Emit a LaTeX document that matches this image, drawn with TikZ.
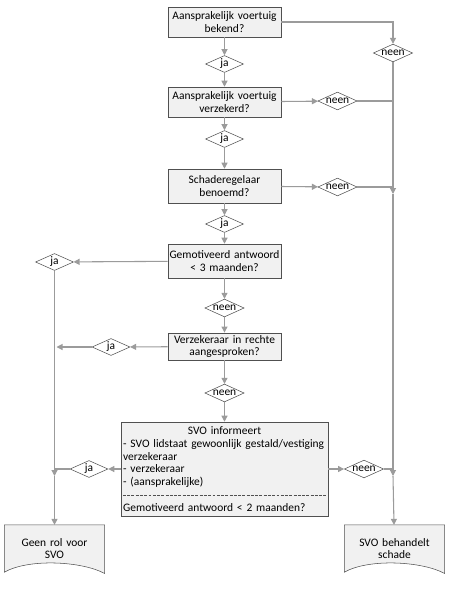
\documentclass[tikz,border=0pt]{standalone}
\usepackage{fontspec}
\setmainfont{Carlito}
\usetikzlibrary{shapes.geometric,arrows.meta,positioning,calc}
\definecolor{boxfill}{HTML}{F1F1F1}
\definecolor{boxline}{HTML}{505050}
\definecolor{linegray}{HTML}{9B9B9B}

\begin{document}
\begin{tikzpicture}[
    x=0.75pt, y=-0.75pt,
    font=\fontsize{8.6}{9.6}\selectfont,
    vraag/.style={
        rectangle,
        draw=boxline,
        fill=boxfill,
        align=center,
        text width=84pt,
        minimum width=85pt,
        minimum height=22.5pt,
        inner sep=0.5pt
    },
    keuze/.style={
        diamond,
        draw=boxline,
        fill=white,
        aspect=2.2,
        inner sep=0.4pt,
        minimum width=28.5pt,
        minimum height=12.75pt
    },
    doc/.style={
        rectangle,
        align=center,
        text width=68pt,
        minimum width=71pt,
        minimum height=35pt
    },
    line/.style={
        draw=linegray,
        thick,
        -{Triangle[length=4.5pt,width=4.5pt]}
    },
    plain/.style={
        draw=linegray,
        thick
    }
]
\useasboundingbox (0,0) rectangle (454,600);

% Vragen in de middenkolom
\node [vraag] (bekend) at (224.5,22) {Aansprakelijk voertuig\\bekend?};
\node [keuze] (ja1) at (224.5,64) {ja};
\node [vraag] (verzekerd) at (224.5,102) {Aansprakelijk voertuig\\verzekerd?};
\node [keuze] (ja2) at (224.5,139) {ja};
\node [vraag, minimum height=25.5pt] (regelaar) at (224.5,186) {Schaderegelaar\\benoemd?};
\node [keuze] (ja3) at (224.5,224) {ja};
\node [vraag, minimum height=25.5pt] (antwoord) at (224.5,261) {Gemotiveerd antwoord\\< 3 maanden?};
\node [keuze] (neen4) at (224.5,308) {neen};
\node [vraag, minimum height=20.5pt] (rechte) at (224.5,346.5) {Verzekeraar in rechte\\aangesproken?};
\node [keuze] (neen5) at (224.5,393) {neen};

\node [vraag, align=left, inner xsep=1.5pt, text width=152pt, minimum width=155pt, minimum height=70.5pt] (svo) at (224.5,469) {
    \makebox[\linewidth]{SVO informeert}\\
    - SVO lidstaat gewoonlijk gestald/vestiging\\
    verzekeraar\\
    - verzekeraar\\
    - (aansprakelijke)\\[9.6pt]
    Gemotiveerd antwoord < 2 maanden?
};
\draw [boxline, dash pattern=on 2.2pt off 1pt] ($(svo.south west)+(2,-21)$) -- ($(svo.south east)+(-2,-21)$);

% Keuzes rechts en links
\node [keuze] (nee1) at (393,53) {neen};
\node [keuze] (nee2) at (337.5,101) {neen};
\node [keuze] (nee3) at (337.5,187) {neen};
\node [keuze] (nee6) at (364,469) {neen};
\node [keuze] (jaa4) at (54.5,262) {ja};
\node [keuze] (jaa5) at (111,347) {ja};
\node [keuze] (jaa6) at (89,469) {ja};

% Eindpunten
\node [doc] (geen) at (54.5,548.5) {Geen rol voor\\SVO};
\node [doc] (behandelt) at (394.5,548.5) {SVO behandelt\\schade};
\foreach \d in {geen,behandelt}
    \draw [boxline, fill=boxfill] (\d.south west) -- (\d.north west) -- (\d.north east) -- ([yshift=-1pt]\d.south east)
        .. controls +(-22,-12) and +(25,-14) .. (\d.south west) -- cycle;
\node [doc] at (geen) {Geen rol voor\\SVO};
\node [doc] at (behandelt) {SVO behandelt\\schade};

\coordinate (r3) at (393,194);
\coordinate (r6) at (393,476);
\coordinate (l6) at (54.5,476);

% Middenkolom
\path [line] (bekend) -- (ja1);
\path [line] (ja1) -- (verzekerd);
\path [line] (verzekerd) -- (ja2);
\path [line] (ja2) -- (regelaar);
\path [line] (regelaar) -- (ja3);
\path [line] (ja3) -- (antwoord);
\path [line] (antwoord) -- (neen4);
\path [line] (neen4) -- (rechte);
\path [line] (rechte) -- (neen5);
\path [line] (neen5) -- (svo);

% Rechts: neen
\draw [line] (bekend.east) -| (nee1.north);
\path [line] (verzekerd) -- (nee2);
\path [plain] (nee2) -- (nee2 -| nee1);
\path [line] (regelaar) -- (nee3);
\path [plain] (nee3) -- (nee3 -| r3);
\path [line] (svo) -- (nee6);
\path [plain] (nee6) -- (nee6 -| r6);
\path [line] (nee1) -- (r3);
\path [line] (r3) -- (r6);
\path [line] (r6) -- (behandelt);

% Links: ja
\path [line] (antwoord) -- (jaa4);
\path [line] (rechte) -- (jaa5);
\path [line] (jaa5) -- ($(jaa5 -| jaa4)+(2,0)$);
\path [line] (svo) -- (jaa6);
\path [plain] (jaa6) -- (jaa6 -| l6);
\path [line] (jaa4) -- (l6);
\path [line] (l6) -- (geen);

\end{tikzpicture}
\end{document}
